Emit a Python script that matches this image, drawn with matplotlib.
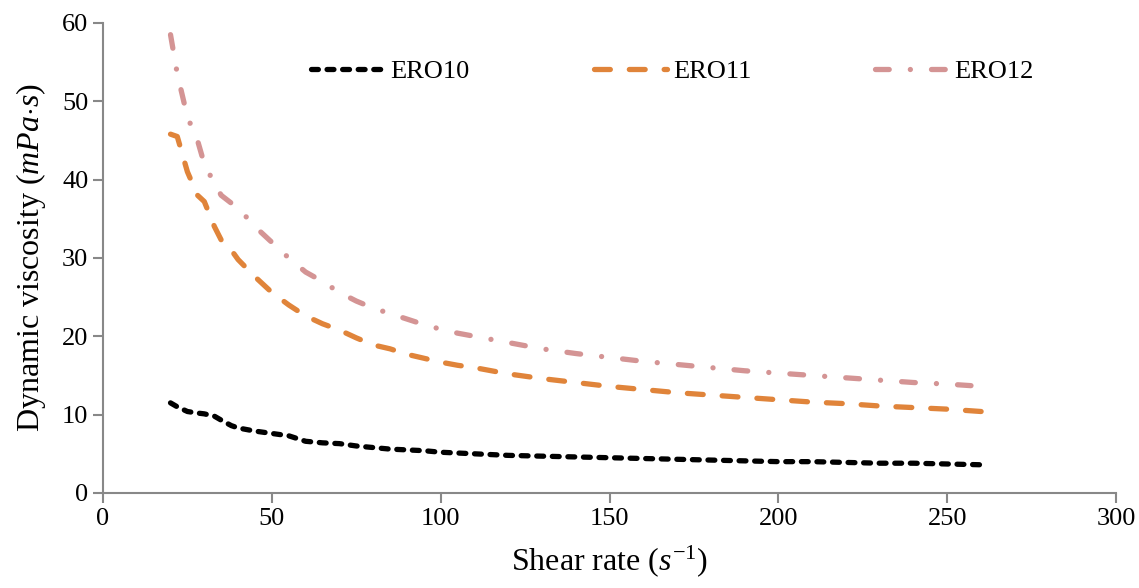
import matplotlib.pyplot as plt

# shear rate (1/s) and dynamic viscosity (mPa.s)
shear = [20, 22, 25, 28, 30, 33, 35, 38, 40, 45, 50, 55, 60, 65, 70, 75, 80, 85, 90, 95,
         100, 105, 110, 115, 120, 130, 140, 150, 160, 170, 180, 190, 200, 210, 220, 230,
         240, 250, 260]
ero10 = [11.5, 11.0, 10.4, 10.2, 10.1, 9.8, 9.3, 8.6, 8.3, 7.9, 7.6, 7.3, 6.6, 6.4, 6.3, 6.0,
         5.8, 5.6, 5.5, 5.4, 5.2, 5.1, 5.0, 4.9, 4.8, 4.7, 4.6, 4.5, 4.4, 4.3, 4.2, 4.1, 4.0,
         4.0, 3.9, 3.8, 3.8, 3.7, 3.6]
ero11 = [45.8, 45.5, 41.0, 38.0, 37.2, 34.0, 32.3, 31.0, 29.8, 27.6, 25.6, 24.0, 22.6, 21.6,
         20.8, 19.8, 18.9, 18.4, 17.7, 17.2, 16.7, 16.3, 16.0, 15.6, 15.2, 14.6, 14.1, 13.6,
         13.2, 12.8, 12.5, 12.2, 11.9, 11.6, 11.4, 11.1, 10.9, 10.7, 10.4]
ero12 = [58.5, 53.5, 48.0, 45.0, 42.0, 39.5, 38.0, 37.0, 36.4, 34.0, 32.0, 30.0, 28.2, 27.0,
         25.6, 24.5, 23.6, 22.9, 22.2, 21.5, 20.9, 20.4, 20.0, 19.6, 19.2, 18.4, 17.8, 17.3,
         16.8, 16.4, 16.0, 15.6, 15.3, 15.0, 14.7, 14.4, 14.1, 13.9, 13.6]
pink_end = 38  # ERO12 stops near 257

plt.rcParams['font.family'] = ['Liberation Serif', 'DejaVu Serif']
plt.rcParams['mathtext.fontset'] = 'custom'
plt.rcParams['mathtext.rm'] = 'Liberation Serif'
plt.rcParams['mathtext.it'] = 'Liberation Serif:italic'

fig = plt.figure(figsize=(11.39, 5.88), dpi=100)
ax = fig.add_axes([0.0904, 0.1616, 0.8896, 0.7994])

lw = 3.8
ax.plot(shear, ero10, color='black', lw=lw, dashes=(1.3, 1.65), dash_capstyle='round',
        label='ERO10')
ax.plot(shear, ero11, color='#e0843a', lw=lw, dashes=(3.0, 3.6), dash_capstyle='round',
        label='ERO11')
ax.plot(shear[:pink_end] + [257], ero12[:pink_end] + [13.7], color='#d49494', lw=lw,
        dashes=(2.6, 4.0, 0.01, 4.0), dash_capstyle='round', label='ERO12')

ax.set_xlim(0, 300)
ax.set_ylim(0, 60)
ax.set_xticks(range(0, 301, 50))
ax.set_yticks(range(0, 61, 10))
for s in ['top', 'right']:
    ax.spines[s].set_visible(False)
for s in ['left', 'bottom']:
    ax.spines[s].set_color('#888888')
    ax.spines[s].set_linewidth(1.5)
ax.tick_params(colors='#888888', labelcolor='black', labelsize=19, length=7, width=1.5)

ax.set_xlabel(r'Shear rate ($\mathit{s}^{\mathrm{-}\mathit{1}}$)', fontsize=23, labelpad=10)
ax.set_ylabel(r'Dynamic viscosity ($\mathit{mPa{\cdot}s}$)', fontsize=23, labelpad=10)

ax.legend(ncol=3, loc='upper left', bbox_to_anchor=(0.182, 0.972), frameon=False,
          fontsize=19, handlelength=2.8, handletextpad=0.2, columnspacing=4.7)

fig.savefig('out.png', dpi=100)
